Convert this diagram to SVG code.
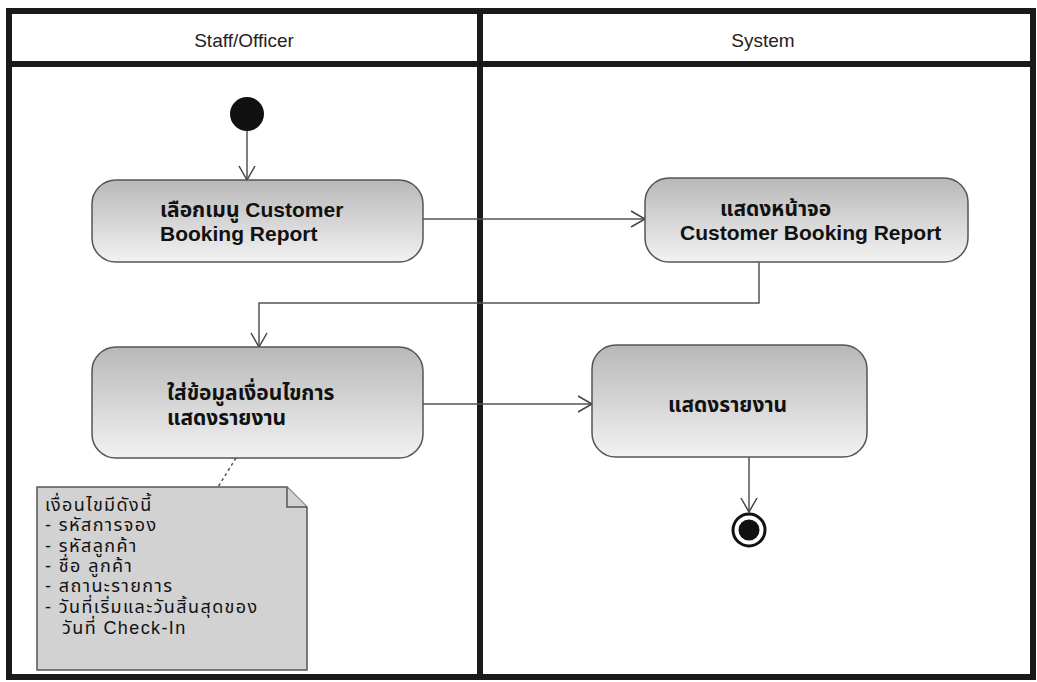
<svg xmlns="http://www.w3.org/2000/svg" width="1037" height="682" viewBox="0 0 1037 682">
<defs>
<linearGradient id="g" x1="0" y1="0" x2="0" y2="1">
<stop offset="0" stop-color="#b8b8b8"/>
<stop offset="1" stop-color="#f2f2f2"/>
</linearGradient>
<marker id="arr" markerUnits="userSpaceOnUse" markerWidth="18" markerHeight="18" refX="15" refY="9" orient="auto">
<path d="M1,1 L15,9 L1,17" fill="none" stroke="#444" stroke-width="1.5"/>
</marker>
<style>
.frame{fill:none;stroke:#1a1a1a;stroke-width:6}
.hdr{font-family:"Liberation Sans","Noto Sans",sans-serif;font-size:19px;fill:#222;text-anchor:middle}
.act{fill:url(#g);stroke:#555;stroke-width:1.5}
.lbl{font-family:"Liberation Sans","Noto Sans","Noto Sans Thai",sans-serif;font-size:21px;font-weight:bold;fill:#111}
.conn{fill:none;stroke:#555;stroke-width:1.5}
.note{fill:#d2d2d2;stroke:#555;stroke-width:1.5}
.nt{font-family:"Liberation Sans","Noto Sans","Noto Sans Thai",sans-serif;font-size:18px;letter-spacing:1.4px;fill:#111}
</style>
</defs>
<rect width="1037" height="682" fill="#fff"/>
<g id="swimlanes">
<rect class="frame" x="9" y="11" width="1024" height="666"/>
<line class="frame" x1="9" y1="64" x2="1033" y2="64"/>
<line class="frame" x1="480" y1="11" x2="480" y2="677"/>
<text class="hdr" x="244" y="47">Staff/Officer</text>
<text class="hdr" x="763" y="47">System</text>
</g>
<g id="connectors">
<line class="conn" x1="247" y1="130" x2="247" y2="180" marker-end="url(#arr)"/>
<line class="conn" x1="423" y1="219" x2="645" y2="219" marker-end="url(#arr)"/>
<polyline class="conn" points="759,262 759,303 259,303 259,347" marker-end="url(#arr)"/>
<line class="conn" x1="423" y1="404" x2="592" y2="404" marker-end="url(#arr)"/>
<line class="conn" x1="749" y1="457" x2="749" y2="512" marker-end="url(#arr)"/>
<line class="conn" x1="236" y1="458" x2="218" y2="487" stroke-dasharray="3,3"/>
</g>
<g id="start">
<circle cx="247" cy="114" r="17" fill="#111"/>
</g>
<g id="act1">
<rect class="act" x="92" y="180" width="331" height="82" rx="24"/>
<text class="lbl" x="160" y="217">เลือกเมนู Customer</text>
<text class="lbl" x="160" y="241">Booking Report</text>
</g>
<g id="act2">
<rect class="act" x="645" y="178" width="323" height="84" rx="24"/>
<text class="lbl" x="720" y="216">แสดงหน้าจอ</text>
<text class="lbl" x="680" y="240">Customer Booking Report</text>
</g>
<g id="act3">
<rect class="act" x="92" y="347" width="331" height="111" rx="24"/>
<text class="lbl" x="167" y="400">ใส่ข้อมูลเงื่อนไขการ</text>
<text class="lbl" x="167" y="425">แสดงรายงาน</text>
</g>
<g id="act4">
<rect class="act" x="592" y="345" width="275" height="112" rx="24"/>
<text class="lbl" x="668" y="412">แสดงรายงาน</text>
</g>
<g id="end">
<circle cx="749" cy="530" r="16" fill="#fff" stroke="#111" stroke-width="3"/>
<circle cx="749" cy="530" r="10.5" fill="#111"/>
</g>
<g id="note">
<polygon class="note" points="37,487 287,487 307,507 307,670 37,670"/>
<polyline class="note" points="287,487 287,507 307,507" fill="#eee"/>
<text class="nt" x="45" y="511">เงื่อนไขมีดังนี้</text>
<text class="nt" x="45" y="531">- รหัสการจอง</text>
<text class="nt" x="45" y="552">- รหัสลูกค้า</text>
<text class="nt" x="45" y="572">- ชื่อ ลูกค้า</text>
<text class="nt" x="45" y="592">- สถานะรายการ</text>
<text class="nt" x="45" y="613">- วันที่เริ่มและวันสิ้นสุดของ</text>
<text class="nt" x="62" y="634">วันที่ Check-In</text>
</g>
</svg>
